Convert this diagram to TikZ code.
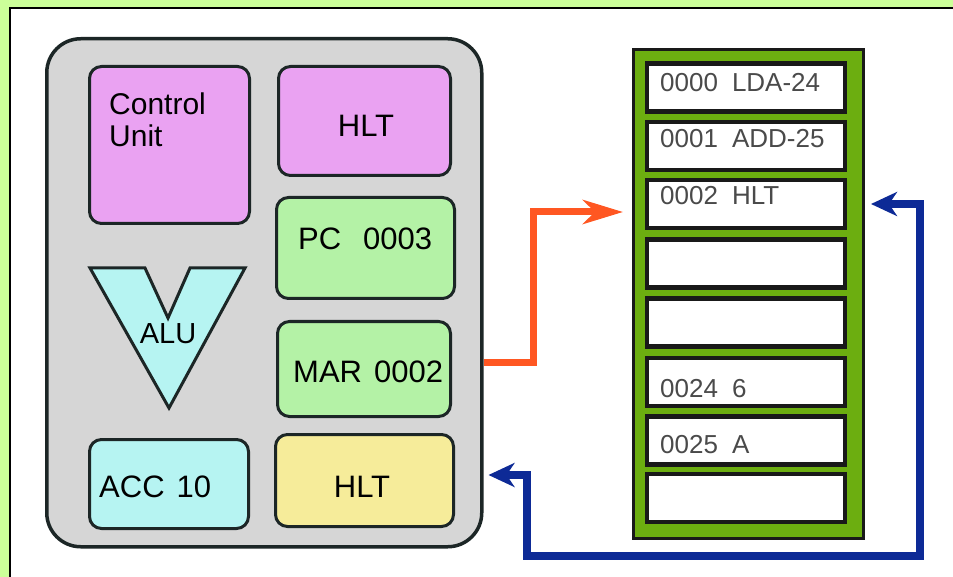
\documentclass[tikz,border=0pt]{standalone}
\usepackage{fontspec}
\setmainfont{Liberation Sans}
\usetikzlibrary{arrows.meta}

\definecolor{limebg}{HTML}{CCFF99}
\definecolor{cpugray}{HTML}{D6D6D6}
\definecolor{edgedark}{HTML}{1C2626}
\definecolor{violetfill}{HTML}{EAA2F2}
\definecolor{greenfill}{HTML}{B4F2A6}
\definecolor{cyanfill}{HTML}{B6F4F2}
\definecolor{yellowfill}{HTML}{F6EC9A}
\definecolor{memgreen}{HTML}{6CAE10}
\definecolor{memtext}{HTML}{4A4A4A}
\definecolor{busorange}{HTML}{FF5722}
\definecolor{busblue}{HTML}{0D2A96}

\tikzset{
  reg/.style={draw=edgedark, line width=3pt, rounded corners=12pt,
    inner sep=0pt, anchor=north west},
  cpulabel/.style={font=\fontsize{31}{34}\selectfont, inner sep=0pt, anchor=base},
  memcell/.style={draw=black!90, fill=white, line width=4.5pt, inner sep=0pt,
    minimum width=198pt, minimum height=48pt},
  memlabel/.style={font=\fontsize{26}{30}\selectfont, text=memtext,
    inner sep=0pt, anchor=base west},
  orangebus/.style={busorange, line width=7pt,
    -{Stealth[length=40pt,width=24pt,inset=12pt]}},
  bluebus/.style={busblue, line width=8pt,
    {Stealth[length=26pt,width=24pt,inset=8pt]}-{Stealth[length=26pt,width=24pt,inset=8pt]}}
}

\begin{document}
\begin{tikzpicture}[x=1pt, y=-1pt]
  % frame
  \useasboundingbox (0,0) rectangle (953,577);
  \fill[limebg] (0,0) rectangle (953,577);
  \fill[white] (10,8) rectangle (953,577);
  \draw[black, line width=1.5pt] (10,577) -- (10,8) -- (953,8);

  % processor
  \node[draw=edgedark, fill=cpugray, line width=3.5pt, rounded corners=34pt,
        inner sep=0pt, minimum width=435pt, minimum height=508pt,
        anchor=north west] (cpu) at (45,37) {};

  \node[reg, fill=violetfill, minimum width=160pt, minimum height=157pt] (cu) at (88,65) {};
  \node[reg, fill=violetfill, minimum width=172pt, minimum height=109pt] (ir) at (277,65) {};
  \node[reg, fill=greenfill, minimum width=178pt, minimum height=101pt] (pc) at (275,196) {};
  \node[reg, fill=greenfill, minimum width=173pt, minimum height=95pt] (mar) at (276,320) {};
  \node[reg, fill=cyanfill, minimum width=159pt, minimum height=89pt] (acc) at (88,438) {};
  \node[reg, fill=yellowfill, minimum width=178pt, minimum height=92pt] (out) at (274,433) {};

  % ALU shape
  \filldraw[fill=cyanfill, draw=edgedark, line width=3pt, line join=miter]
    (90,268) -- (145,268) -- (168,318) -- (190,268) -- (245,268) -- (169,408) -- cycle;

  \node[cpulabel, font=\fontsize{30}{33}\selectfont, anchor=base west] (cut1) at (109,115) {Control};
  \node[cpulabel, font=\fontsize{30}{33}\selectfont, anchor=base west] (cut2) at (109,147) {Unit};
  \node[cpulabel] (irt) at (366,137) {HLT};
  \node[cpulabel, anchor=base west] (pct) at (298,250) {PC\hspace{22pt}0003};
  \node[cpulabel, anchor=base west] (mart) at (293,382) {MAR\hspace{12pt}0002};
  \node[cpulabel, anchor=base west] (acct) at (99,497) {ACC\hspace{12pt}10};
  \node[cpulabel] (outt) at (362,497) {HLT};
  \node[cpulabel, font=\fontsize{29}{32}\selectfont] (alut) at (168,343) {ALU};

  % memory
  \node[draw=black!90, fill=memgreen, line width=3pt, inner sep=0pt,
        minimum width=230pt, minimum height=489pt, anchor=north west] (mem) at (632,48) {};
  \foreach \i/\y in {1/87.5, 2/146, 3/204, 4/263.5, 5/322.5, 6/382, 7/440.5, 8/498} {
    \node[memcell] (c\i) at (746,\y) {};
  }
  \node[memlabel] (m1) at (660,92) {0000\hspace{14pt}LDA-24};
  \node[memlabel] (m2) at (660,148) {0001\hspace{14pt}ADD-25};
  \node[memlabel] (m3) at (660,205) {0002\hspace{14pt}HLT};
  \node[memlabel] (m6) at (660,397) {0024\hspace{14pt}6};
  \node[memlabel] (m7) at (660,453) {0025\hspace{14pt}A};

  % buses
  \coordinate (ostart) at (cpu.east |- 0,362);
  \coordinate (oend) at ([xshift=-9pt]mem.west |- 0,212);
  \draw[orangebus] (ostart) -- (533,362) -- (533,212) -- (oend);

  \coordinate (bstart) at ([xshift=6pt]mem.east |- c3);
  \coordinate (bend) at ([xshift=5pt]cpu.east |- 0,475);
  \draw[bluebus] (bstart) -- (920,204) -- (920,556) -- (527,556) -- (527,475) -- (bend);
\end{tikzpicture}
\end{document}
